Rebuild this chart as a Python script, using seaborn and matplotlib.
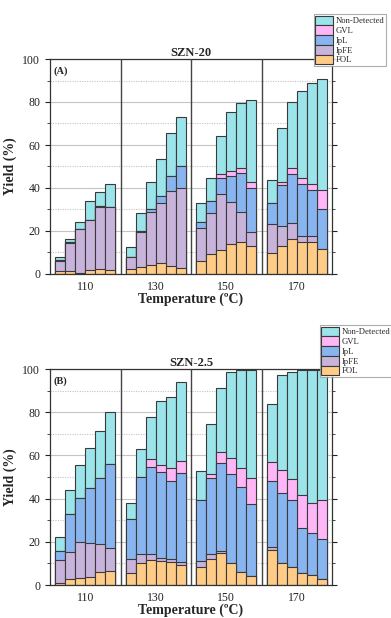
import matplotlib
matplotlib.use("Agg")
import matplotlib.pyplot as plt
import numpy as np
import pandas as pd
import seaborn as sns
from matplotlib.patches import Patch
from matplotlib.ticker import MultipleLocator

sns.set_theme(style="white")
plt.rcParams['font.family'] = ['Liberation Serif', 'DejaVu Serif']

temps = ['110', '130', '150', '170']
components = ['FOL', 'IpFE', 'IpL', 'GVL', 'Non-Detected']
colors = {'FOL': '#FFCC88', 'IpFE': '#C8B3DB', 'IpL': '#88B5F0',
          'GVL': '#FFB6F6', 'Non-Detected': '#9BE4EA'}

# Panel A: SZN-20 (6 reaction times per temperature)
a_FOL  = [1.5, 1.2, 0.6, 1.9, 2.5, 1.9,   2.2, 3.4, 4.2, 5.3, 3.9, 2.6,
          5.9, 9.1, 11.1, 13.8, 15.1, 13.0,   9.6, 13.0, 16.4, 14.7, 15.1, 11.4]
a_IpFE = [4.5, 13.3, 20.1, 23.4, 28.7, 29.3,   5.5, 16.2, 24.7, 27.5, 34.6, 37.6,
          15.3, 19.5, 26.3, 19.7, 13.6, 6.6,   13.6, 9.3, 7.1, 3.2, 2.8, 0.0]
a_IpL  = [0.5, 0.6, 0.2, 0.0, 0.2, 0.0,   0.0, 0.2, 1.1, 3.4, 6.9, 10.2,
          2.8, 5.4, 7.4, 12.1, 18.4, 20.4,   10.0, 19.3, 22.9, 23.8, 21.0, 19.0]
a_GVL  = [0, 0, 0, 0, 0, 0,   0, 0, 0, 0, 0, 0,
          0.0, 0.0, 1.9, 2.3, 2.2, 3.0,   0.0, 1.1, 2.7, 3.0, 3.1, 8.9]
a_ND   = [1.4, 1.3, 3.4, 8.7, 6.8, 10.8,   4.7, 8.6, 12.8, 17.3, 20.3, 22.6,
          8.8, 10.8, 17.3, 27.4, 30.3, 38.0,   10.7, 25.3, 30.8, 40.3, 46.9, 51.6]

# Panel B: SZN-2.5
b_FOL  = [0.8, 2.8, 3.2, 3.9, 5.9, 6.5,   5.4, 10.2, 11.6, 11.0, 10.5, 9.3,
          8.2, 11.9, 15.0, 10.0, 6.2, 4.2,   16.0, 10.0, 8.2, 5.4, 4.5, 2.8]
b_IpFE = [10.6, 12.3, 16.9, 15.5, 13.2, 10.8,   6.8, 4.0, 2.6, 1.3, 1.4, 1.2,
          2.9, 2.3, 0.9, 0.0, 0.0, 0.0,   1.4, 0.0, 0.0, 0.0, 0.0, 0.0]
b_IpL  = [4.2, 17.8, 20.2, 25.4, 30.6, 38.6,   18.2, 36.0, 40.3, 39.9, 36.1, 41.2,
          28.3, 35.5, 40.4, 41.4, 39.2, 33.1,   30.9, 32.6, 31.2, 20.8, 19.4, 18.7]
b_GVL  = [0, 0, 0, 0, 0, 0,   0.0, 0.0, 3.8, 3.2, 6.2, 5.6,
          0.0, 1.8, 5.3, 7.6, 8.6, 12.1,   8.5, 10.6, 9.5, 15.6, 13.9, 17.9]
b_ND   = [6.4, 10.9, 15.1, 18.5, 21.6, 24.2,   7.4, 12.9, 19.6, 29.9, 32.8, 36.8,
          13.5, 22.9, 29.6, 39.8, 45.4, 50.0,   27.0, 44.2, 49.9, 57.7, 61.7, 60.1]

panels = [
    ('SZN-20', '(A)', dict(zip(components, [a_FOL, a_IpFE, a_IpL, a_GVL, a_ND]))),
    ('SZN-2.5', '(B)', dict(zip(components, [b_FOL, b_IpFE, b_IpL, b_GVL, b_ND]))),
]

n_per = 6
gw = n_per + 1  # group width in bar units
pos = np.array([g * gw + 1 + i for g in range(len(temps)) for i in range(n_per)], dtype=float)

W, H = 391, 618
fig = plt.figure(figsize=(W / 100, H / 100), dpi=100)
ax_boxes = [(50, 59, 332, 274), (50, 369, 332, 585)]
legend_tr = [(386, 14), (392, 325)]
edge = '#3a3a3a'

for (title, tag, vals), (l, t, r, b), (lx, ly) in zip(panels, ax_boxes, legend_tr):
    ax = fig.add_axes([l / W, 1 - b / H, (r - l) / W, (b - t) / H])
    df = pd.DataFrame(vals)
    df['pos'] = pos
    cum = df[components].cumsum(axis=1)
    # gridlines
    ax.yaxis.set_major_locator(MultipleLocator(20))
    ax.yaxis.set_minor_locator(MultipleLocator(10))
    ax.grid(True, which='major', axis='y', color='#c4c4c4', lw=0.8, ls='-')
    ax.grid(True, which='minor', axis='y', color='#c4c4c4', lw=0.8, ls=(0, (1, 1.2)))
    ax.set_axisbelow(True)
    for comp in reversed(components):
        sns.barplot(x=df['pos'], y=cum[comp], native_scale=True, width=1.0,
                    color=colors[comp], saturation=1, edgecolor=edge, linewidth=0.8,
                    errorbar=None, ax=ax, zorder=2)
    for g in range(1, len(temps)):
        ax.axvline(g * gw, color='#444444', lw=1.0, zorder=3)
    ax.set_xlim(0, gw * len(temps))
    ax.set_ylim(0, 100)
    ax.set_xticks([g * gw + gw / 2 for g in range(len(temps))])
    ax.set_xticklabels(temps)
    ax.set_yticks([0, 20, 40, 60, 80, 100])
    ax.tick_params(axis='x', length=0, labelsize=8.5, pad=5, colors='#222')
    ax.tick_params(axis='y', which='major', direction='out', length=3.5, width=0.8,
                   labelsize=8.5, right=True, left=True, colors='#222')
    ax.tick_params(axis='y', which='minor', direction='out', length=2, width=0.6,
                   right=True, left=True)
    for s in ax.spines.values():
        s.set_color('#333333')
        s.set_linewidth(0.9)
    ax.set_xlabel('Temperature (ºC)', fontsize=10, fontweight='bold', labelpad=0)
    ax.set_ylabel('Yield (%)', fontsize=10, fontweight='bold', labelpad=4)
    ax.set_title(title, fontsize=9, fontweight='bold', pad=2)
    ax.text(0.012, 0.965, tag, transform=ax.transAxes, fontsize=7.5,
            fontweight='bold', va='top', ha='left')
    handles = [Patch(facecolor=colors[c], edgecolor=edge, linewidth=0.8)
               for c in reversed(components)]
    leg = fig.legend(handles, list(reversed(components)), loc='upper right',
                     bbox_to_anchor=(lx / W, 1 - ly / H), fontsize=6.2,
                     frameon=True, fancybox=False, handlelength=2.1,
                     handleheight=1.35, labelspacing=0.0, handletextpad=0.25,
                     borderpad=0.2, borderaxespad=0)
    leg.get_frame().set_edgecolor('#999999')
    leg.get_frame().set_linewidth(0.8)

fig.savefig('out.png', dpi=100)
